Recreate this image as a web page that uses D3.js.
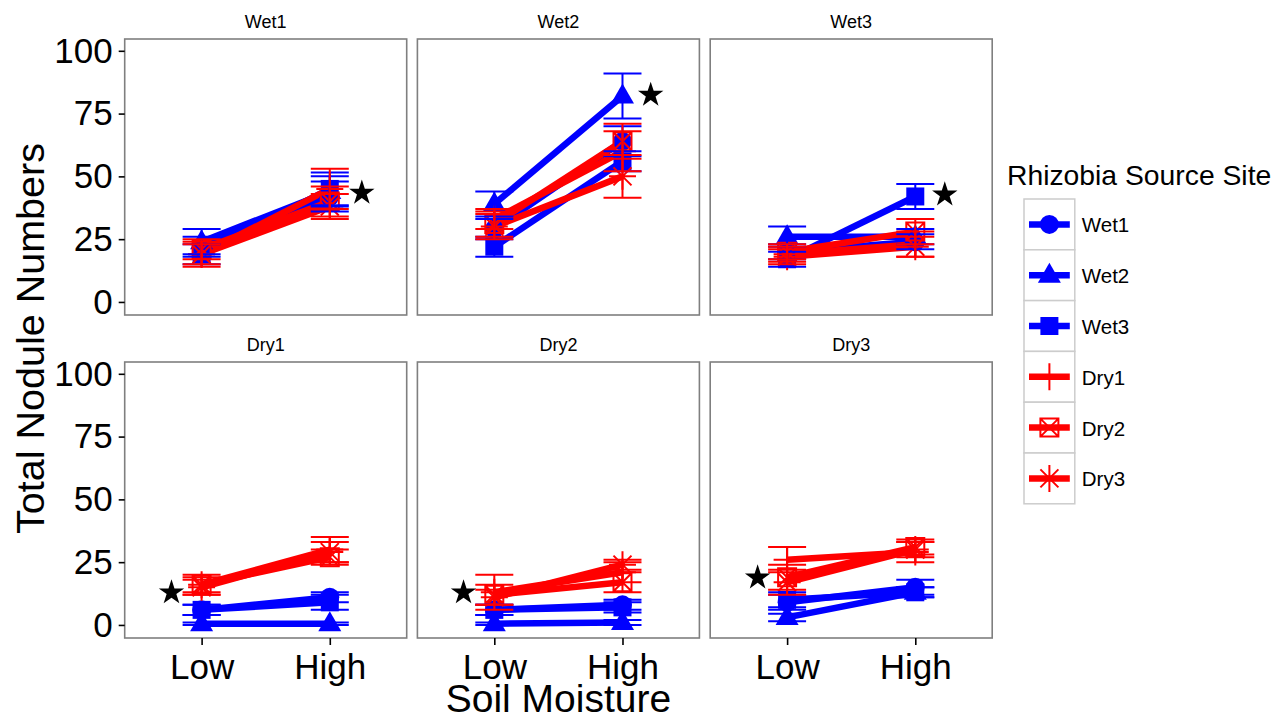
<!DOCTYPE html>
<html>
<head>
<meta charset="utf-8">
<script src="https://cdn.jsdelivr.net/npm/d3@7"></script>
<style>
  html, body { margin: 0; padding: 0; background: #fff; }
  svg { display: block; font-family: "Liberation Sans", Arial, Helvetica, sans-serif; }
</style>
</head>
<body>
<svg id="chart" width="1284" height="721"></svg>
<script>
// ---------------- DATA ----------------
const panels = ["Wet1", "Wet2", "Wet3", "Dry1", "Dry2", "Dry3"];      // facet (plant site)
const series = ["Wet1", "Wet2", "Wet3", "Dry1", "Dry2", "Dry3"];      // rhizobia source site
const seriesColor = ["#0000FF", "#0000FF", "#0000FF", "#FF0000", "#FF0000", "#FF0000"];
const seriesShape = ["circle", "triangle", "square", "plus", "squareCross", "asterisk"];
const moisture = ["Low", "High"];
const yTicks = [0, 25, 50, 75, 100];

// rows = panels, columns = series
const lowMean = [
  [22, 24, 19, 19, 21, 19],
  [29, 39, 22, 33, 31, 30],
  [20, 26, 17, 19, 20, 18],
  [6, 0.5, 6, 16, 16, 15],
  [6, 0.5, 6, 13, 12, 11],
  [9, 3, 10, 26, 19, 17]
];
const lowSE = [
  [4, 5, 4, 5, 4, 4],
  [4, 5, 4, 4, 5, 5],
  [3, 4, 3, 3, 3, 3],
  [2, 0.5, 2, 4, 3, 3],
  [2, 0.5, 2, 7, 4, 3],
  [3, 1.5, 3, 5, 5, 5]
];
const highMean = [
  [42, 44, 45, 45, 40, 38],
  [64, 82, 56, 60, 64, 50],
  [24, 26, 42, 23, 28, 22],
  [11, 0.5, 9, 30, 27, 29],
  [8, 1, 7, 21, 17, 24],
  [15, 13, 13, 29, 31, 30]
];
const highSE = [
  [6, 6, 6.5, 8, 6, 5],
  [6, 9, 4, 8, 7, 8.5],
  [3, 3, 5, 5, 5, 4],
  [2, 0.5, 3, 5, 3, 4],
  [2, 1, 2, 4, 4, 2],
  [3, 2, 2, 4, 3, 3]
];

// significance stars: panel, moisture level, offset (in category steps), y value
const starPanel = ["Wet1", "Wet2", "Wet3", "Dry1", "Dry2", "Dry3"];
const starLevel = ["High", "High", "High", "Low", "Low", "Low"];
const starOffset = [0.25, 0.22, 0.23, -0.235, -0.24, -0.23];
const starY = [44, 83, 43.3, 13.5, 13.5, 19.4];

// ---------------- LAYOUT ----------------
const svg = d3.select("#chart");
const colX = [124.7, 417.4, 710.2];
const rowY = [39, 362];
const panelW = 282, panelH = 276;

const x = d3.scalePoint().domain(moisture).range([0, panelW]).padding(0.6);
const y = d3.scaleLinear().domain([-5.2, 104.7]).range([panelH, 0]);

const LINE_W = 6.5, ERR_W = 2, CAP_HALF = 19;

function drawShape(g, shape, color) {
  if (shape === "circle") {
    g.append("circle").attr("r", 9.5).attr("fill", color);
  } else if (shape === "triangle") {
    g.append("path").attr("d", "M0,-12.5L11.5,7.5L-11.5,7.5Z").attr("fill", color);
  } else if (shape === "square") {
    g.append("rect").attr("x", -9).attr("y", -9).attr("width", 18).attr("height", 18).attr("fill", color);
  } else if (shape === "plus") {
    g.append("path").attr("d", "M-13.5,0H13.5M0,-13.5V13.5")
      .attr("stroke", color).attr("stroke-width", 2).attr("fill", "none");
  } else if (shape === "squareCross") {
    g.append("path").attr("d", "M-9,-9H9V9H-9ZM-9,-9L9,9M9,-9L-9,9")
      .attr("stroke", color).attr("stroke-width", 2).attr("fill", "none");
  } else if (shape === "asterisk") {
    g.append("path").attr("d", "M-13.5,0H13.5M0,-13.5V13.5M-9,-9L9,9M9,-9L-9,9")
      .attr("stroke", color).attr("stroke-width", 2).attr("fill", "none");
  }
}

const starSym = d3.symbol().type(d3.symbolStar).size(200);

panels.forEach((pName, pi) => {
  const col = pi % 3, row = Math.floor(pi / 3);
  const g = svg.append("g").attr("transform", `translate(${colX[col]},${rowY[row]})`);

  g.append("rect").attr("width", panelW).attr("height", panelH).attr("fill", "#fff");

  // strip label
  g.append("text").attr("x", panelW / 2).attr("y", -11)
    .attr("text-anchor", "middle").attr("font-size", 18).attr("fill", "#000").text(pName);

  const sData = series.map((s, si) => ({
    name: s, color: seriesColor[si], shape: seriesShape[si],
    pts: [
      { m: "Low", v: lowMean[pi][si], se: lowSE[pi][si] },
      { m: "High", v: highMean[pi][si], se: highSE[pi][si] }
    ]
  }));

  const line = d3.line().x(d => x(d.m)).y(d => y(d.v));

  // lines
  g.selectAll("path.series").data(sData).join("path")
    .attr("class", "series")
    .attr("d", d => line(d.pts))
    .attr("fill", "none").attr("stroke", d => d.color)
    .attr("stroke-width", LINE_W).attr("stroke-linejoin", "round").attr("stroke-linecap", "butt");

  // points
  sData.forEach(s => {
    s.pts.forEach(p => {
      const pg = g.append("g").attr("transform", `translate(${x(p.m)},${y(p.v)})`);
      drawShape(pg, s.shape, s.color);
    });
  });

  // error bars
  sData.forEach(s => {
    s.pts.forEach(p => {
      const cx = x(p.m), y1 = y(p.v + p.se), y0 = y(p.v - p.se);
      g.append("path")
        .attr("d", `M${cx - CAP_HALF},${y1}H${cx + CAP_HALF}M${cx},${y1}V${y0}M${cx - CAP_HALF},${y0}H${cx + CAP_HALF}`)
        .attr("stroke", s.color).attr("stroke-width", ERR_W).attr("fill", "none");
    });
  });

  // stars
  starPanel.forEach((sp, k) => {
    if (sp !== pName) return;
    const sx = x(starLevel[k]) + starOffset[k] * x.step();
    g.append("path").attr("d", starSym)
      .attr("transform", `translate(${sx},${y(starY[k]) + 1.5})`)
      .attr("fill", "#000");
  });

  // border
  g.append("rect").attr("width", panelW).attr("height", panelH)
    .attr("fill", "none").attr("stroke", "#7F7F7F").attr("stroke-width", 1.6);

  if (col === 0) {
    const ay = g.append("g").call(d3.axisLeft(y).tickValues(yTicks).tickSize(6).tickPadding(6));
    ay.select(".domain").remove();
    ay.selectAll(".tick line").attr("stroke", "#000").attr("stroke-width", 1.6);
    ay.selectAll(".tick text").attr("font-size", 35).attr("fill", "#000")
      .attr("font-family", "Liberation Sans, Arial, sans-serif");
  }
  if (row === 1) {
    const ax = g.append("g").attr("transform", `translate(0,${panelH})`)
      .call(d3.axisBottom(x).tickSize(7).tickPadding(9));
    ax.select(".domain").remove();
    ax.selectAll(".tick line").attr("stroke", "#000").attr("stroke-width", 1.6);
    ax.selectAll(".tick text").attr("font-size", 35).attr("fill", "#000")
      .attr("font-family", "Liberation Sans, Arial, sans-serif");
  }
});

// axis titles
svg.append("text").attr("x", (colX[0] + colX[2] + panelW) / 2).attr("y", 712)
  .attr("text-anchor", "middle").attr("font-size", 39).attr("fill", "#000").text("Soil Moisture");
svg.append("text")
  .attr("transform", `translate(44,${(rowY[0] + rowY[1] + panelH) / 2}) rotate(-90)`)
  .attr("text-anchor", "middle").attr("font-size", 39.5).attr("fill", "#000").text("Total Nodule Numbers");

// ---------------- LEGEND ----------------
const lg = svg.append("g").attr("transform", "translate(1007,0)");
lg.append("text").attr("x", 0).attr("y", 185).attr("font-size", 28.3).attr("fill", "#000")
  .text("Rhizobia Source Site");
const keyX = 17, keyY0 = 199, keyS = 50.8;
series.forEach((s, si) => {
  const kg = lg.append("g").attr("transform", `translate(${keyX},${keyY0 + si * keyS})`);
  kg.append("rect").attr("width", keyS).attr("height", keyS)
    .attr("fill", "#fff").attr("stroke", "#CCCCCC").attr("stroke-width", 1.5);
  kg.append("line").attr("x1", 5).attr("x2", keyS - 5)
    .attr("y1", keyS / 2).attr("y2", keyS / 2)
    .attr("stroke", seriesColor[si]).attr("stroke-width", LINE_W);
  const mg = kg.append("g").attr("transform", `translate(${keyS / 2},${keyS / 2})`);
  drawShape(mg, seriesShape[si], seriesColor[si]);
  kg.append("text").attr("x", keyS + 7).attr("y", keyS / 2 + 8)
    .attr("font-size", 20.5).attr("fill", "#000").text(s);
});
</script>
</body>
</html>
